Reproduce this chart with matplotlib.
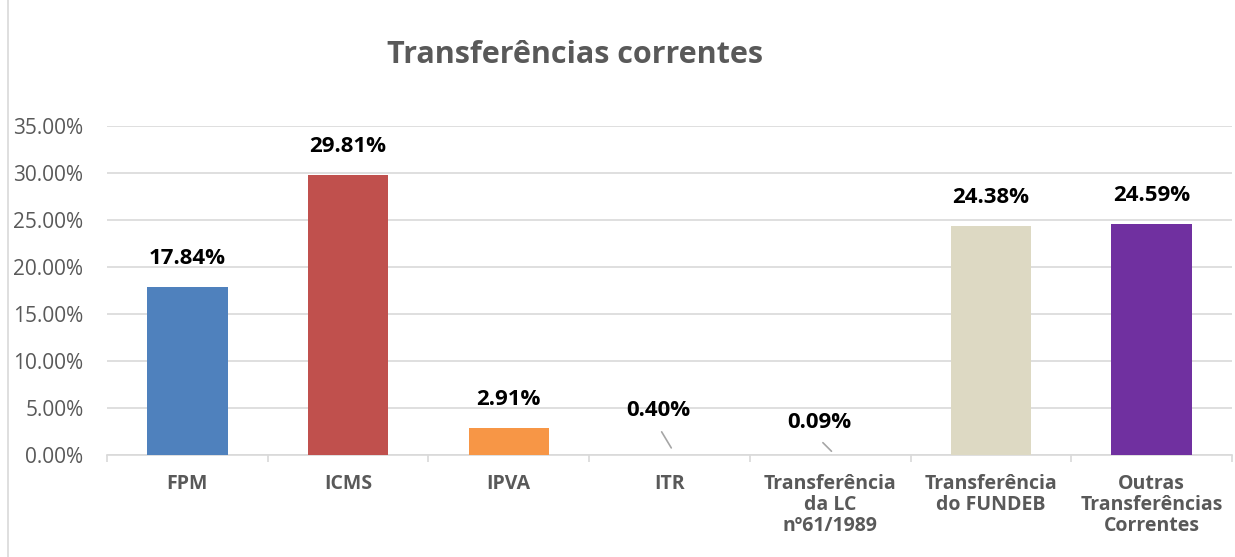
import numpy as np
import matplotlib.pyplot as plt
from matplotlib.patches import Rectangle

categories = ['FPM', 'ICMS', 'IPVA', 'ITR', 'Transferência\nda LC\nnº61/1989',
              'Transferência\ndo FUNDEB', 'Outras\nTransferências\nCorrentes']
values = [17.84, 29.81, 2.91, 0.40, 0.09, 24.38, 24.59]
colors = ['#4F81BD', '#C0504D', '#F79646', 'none', 'none', '#DDD9C3', '#7030A0']

plt.rcParams['font.family'] = ['Open Sans', 'DejaVu Sans']
gray = '#595959'

fig = plt.figure(figsize=(12.35, 5.57), dpi=100)
ax = fig.add_axes([107 / 1235, 1 - 455 / 557, (1232 - 107) / 1235, (455 - 126) / 557])

x = np.arange(len(categories))
ax.bar(x, values, width=0.5, color=colors, zorder=3)

ax.set_xlim(-0.5, len(categories) - 0.5)
ax.set_ylim(0, 35)
ax.set_yticks(np.arange(0, 36, 5))
ax.set_yticklabels([f'{v:.2f}%' for v in np.arange(0, 36, 5)], fontsize=15, color=gray)
ax.yaxis.grid(True, color='#D9D9D9', linewidth=1.2, zorder=0)
ax.tick_params(axis='y', length=0, pad=17)

ax.set_xticks(x)
ax.set_xticklabels(categories, fontsize=14, fontweight='bold', color=gray, linespacing=1.05, va='top')
ax.set_xticks(np.arange(-0.5, len(categories)), minor=True)
ax.tick_params(axis='x', which='major', length=0, pad=14)
ax.tick_params(axis='x', which='minor', length=5, color='#D9D9D9', width=1.2)

for s in ['top', 'right', 'left']:
    ax.spines[s].set_visible(False)
ax.spines['bottom'].set_color('#D9D9D9')
ax.spines['bottom'].set_linewidth(1.2)

for i, v in enumerate(values):
    if v >= 1:
        ax.annotate(f'{v:.2f}%', (i, v), xytext=(0, 13), textcoords='offset points',
                    ha='center', va='bottom', fontsize=16, fontweight='bold', color='black')
    else:
        ax.annotate(f'{v:.2f}%', (i, v), xytext=(-8, 22 if v > 0.2 else 15),
                    textcoords='offset points', ha='center', va='bottom',
                    fontsize=16, fontweight='bold', color='black')
        ax.annotate('', (i + 0.02, v + 0.1), xytext=(-9, 15 if v > 0.2 else 9),
                    textcoords='offset points',
                    arrowprops=dict(arrowstyle='-', color='#A6A6A6', lw=1.2))

fig.text(575 / 1235, 1 - 55 / 557, 'Transferências correntes', ha='center', va='center',
         fontsize=22, fontweight='bold', color=gray)

fig.patches.append(Rectangle((8 / 1235, -0.01), 1.5, 1.5, transform=fig.transFigure,
                             fill=False, edgecolor='#D9D9D9', linewidth=1.2))

fig.savefig('out.png', dpi=100)
